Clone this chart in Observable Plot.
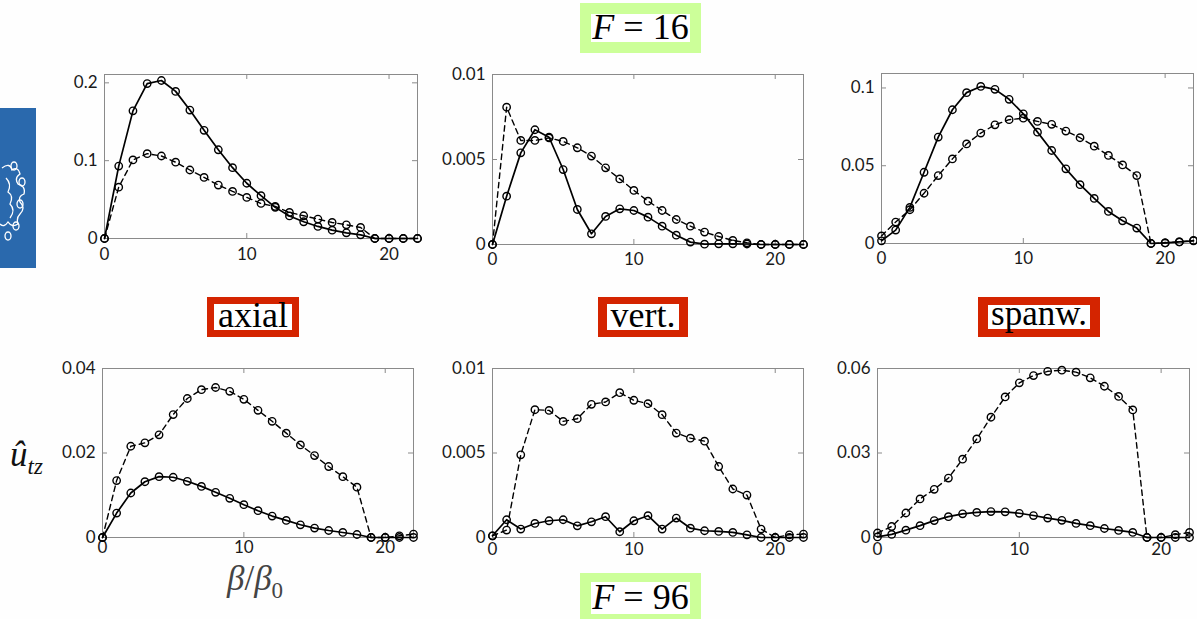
<!DOCTYPE html>
<html>
<head>
<meta charset="utf-8">
<script src="https://cdn.jsdelivr.net/npm/d3@7"></script>
<script src="https://cdn.jsdelivr.net/npm/@observablehq/plot@0.6"></script>
<style>
  html, body { margin:0; padding:0; background:#fefefe; }
  #root { position:relative; width:1197px; height:619px; overflow:hidden; background:#fefefe; }
  .abs { position:absolute; }
  .green { background:#ccff99; }
  .red { background:#d42400; }
  .inner { position:absolute; background:#fff; font-family:"Liberation Serif", "DejaVu Serif", serif; color:#000; white-space:nowrap; text-align:center; overflow:visible; }
  .math { font-family:"Liberation Serif", "DejaVu Serif", serif; white-space:nowrap; line-height:1; }
</style>
</head>
<body>
<div id="root"></div>
<script>
// ---- data ----
const beta = [0,1,2,3,4,5,6,7,8,9,10,11,12,13,14,15,16,17,18,19,20,21,22];
const xTicks = [0, 10, 20];

// F = 16
const axialF16Solid  = [0,0.093,0.164,0.199,0.203,0.189,0.165,0.139,0.114,0.091,0.071,0.055,0.040,0.029,0.0215,0.0155,0.0107,0.0073,0.0047,0,0,0,0];
const axialF16Dashed = [0,0.066,0.101,0.109,0.106,0.098,0.088,0.0785,0.0687,0.0605,0.0528,0.045,0.0412,0.0335,0.0292,0.0249,0.0206,0.0176,0.0142,0,0,0,0];
const vertF16Solid   = [0,0.00284,0.00539,0.00675,0.00631,0.00441,0.00206,0.00063,0.00165,0.0021,0.0020,0.00161,0.00108,0.00055,0.00014,0.00002,0.00004,0.00004,0.00003,0,0,0,0];
const vertF16Dashed  = [0,0.00808,0.00612,0.00612,0.00627,0.00606,0.00569,0.0052,0.00451,0.00386,0.00318,0.00255,0.0020,0.00147,0.00108,0.00073,0.00047,0.00024,0.0001,0,0,0,0];
const spanF16Solid   = [0.0017,0.0086,0.0232,0.0458,0.0684,0.086,0.097,0.101,0.0991,0.0927,0.0834,0.0716,0.0598,0.048,0.0378,0.029,0.0206,0.0146,0.0099,0,0.0004,0.001,0.0017];
const spanF16Dashed  = [0.0049,0.0138,0.0217,0.0323,0.0437,0.0544,0.064,0.071,0.0763,0.0796,0.0806,0.0785,0.0766,0.0723,0.068,0.0626,0.0566,0.0505,0.0437,0,0.0004,0.001,0.002];

// F = 96
const axialF96Solid  = [0,0.00578,0.01053,0.0132,0.0144,0.01426,0.0133,0.0121,0.0107,0.00927,0.00776,0.00634,0.00507,0.00404,0.00301,0.00222,0.00166,0.00119,0.00071,0,0,0,0];
const axialF96Dashed = [0,0.01347,0.0216,0.0224,0.0243,0.0291,0.0329,0.035,0.0355,0.0346,0.0327,0.0301,0.0275,0.0247,0.0219,0.0194,0.0168,0.0144,0.0119,0,0,0.0004,0.0008];
const vertF96Solid   = [0.0001,0.00105,0.0005,0.00083,0.00099,0.00105,0.00069,0.00093,0.00123,0.00034,0.00099,0.00129,0.0005,0.00115,0.00055,0.0004,0.00036,0.0003,0.00016,0,0,0,0];
const vertF96Dashed  = [0.0001,0.00044,0.00489,0.00756,0.00752,0.00687,0.00703,0.00788,0.00802,0.00857,0.00812,0.00792,0.00727,0.00618,0.00588,0.0057,0.0042,0.00287,0.00251,0.0005,0,0.00016,0.0002];
const spanF96Solid   = [0.0002,0.0011,0.0026,0.0042,0.006,0.0074,0.0084,0.0089,0.0092,0.0091,0.0086,0.0078,0.0069,0.0061,0.005,0.0042,0.0032,0.0025,0.0018,0,0,0,0];
const spanF96Dashed  = [0.0016,0.0039,0.0087,0.0137,0.0171,0.0211,0.0278,0.035,0.0427,0.0499,0.0549,0.0575,0.059,0.0594,0.0587,0.0567,0.0537,0.0501,0.0453,0,0,0.001,0.0018];

// y tick values
const axialF16Ticks = [0, 0.1, 0.2];
const vertF16Ticks  = [0, 0.005, 0.01];
const spanF16Ticks  = [0, 0.05, 0.1];
const axialF96Ticks = [0, 0.02, 0.04];
const vertF96Ticks  = [0, 0.005, 0.01];
const spanF96Ticks  = [0, 0.03, 0.06];

const titleTop = "F = 16";
const titleBottom = "F = 96";
const componentLabels = ["axial", "vert.", "spanw."];

// ---- layout ----
const root = document.getElementById("root");
const panels = [
  {solid: axialF16Solid, dashed: axialF16Dashed, ticks: axialF16Ticks, ymax: 0.2107, L:104, T:74,  W:313, H:164, xpad:9},
  {solid: vertF16Solid,  dashed: vertF16Dashed,  ticks: vertF16Ticks,  ymax: 0.01,   L:492, T:74,  W:311, H:170, xpad:8},
  {solid: spanF16Solid,  dashed: spanF16Dashed,  ticks: spanF16Ticks,  ymax: 0.1093, L:881, T:73,  W:312, H:170, xpad:8},
  {solid: axialF96Solid, dashed: axialF96Dashed, ticks: axialF96Ticks, ymax: 0.04,   L:102, T:368, W:311, H:169, xpad:3},
  {solid: vertF96Solid,  dashed: vertF96Dashed,  ticks: vertF96Ticks,  ymax: 0.01,   L:492, T:368, W:311, H:169, xpad:5},
  {solid: spanF96Solid,  dashed: spanF96Dashed,  ticks: spanF96Ticks,  ymax: 0.06,   L:877, T:368, W:312, H:169, xpad:5}
];

const mL = 50, mR = 6, mT = 8, mB = 30;
const fmt = d => d === 0 ? "0" : String(d);

for (const p of panels) {
  const data = beta.map((b, i) => ({b, s: p.solid[i], d: p.dashed[i]}));
  const frameStroke = "#8a8a8a";
  const svg = Plot.plot({
    width: p.W + mL + mR,
    height: p.H + mT + mB,
    marginLeft: mL, marginRight: mR, marginTop: mT, marginBottom: mB,
    x: {domain: [0, 22], label: null},
    y: {domain: [0, p.ymax], label: null},
    style: {fontFamily: "Lato, 'Open Sans', sans-serif", fontSize: "17px", color: "#1a1a1a", background: "transparent", overflow: "visible"},
    marks: [
      Plot.frame({stroke: frameStroke, strokeWidth: 1}),
      Plot.ruleX(xTicks, {stroke: frameStroke, insetTop: p.H - 5}),
      Plot.ruleX(xTicks, {stroke: frameStroke, insetBottom: p.H - 5}),
      Plot.ruleY(p.ticks, {stroke: frameStroke, insetRight: p.W - 5}),
      Plot.ruleY(p.ticks, {stroke: frameStroke, insetLeft: p.W - 5}),
      Plot.axisX(xTicks, {tickSize: 0, tickPadding: p.xpad, tickFormat: fmt, fill: "#1a1a1a"}),
      Plot.axisY(p.ticks, {tickSize: 0, tickPadding: 7, tickFormat: fmt, fill: "#1a1a1a"}),
      Plot.line(data, {x: "b", y: "d", stroke: "#000", strokeWidth: 1.4, strokeDasharray: "5.5,4"}),
      Plot.line(data, {x: "b", y: "s", stroke: "#000", strokeWidth: 1.7}),
      Plot.dot(data, {x: "b", y: "d", r: 3.7, stroke: "#000", strokeWidth: 1.4, fill: "none"}),
      Plot.dot(data, {x: "b", y: "s", r: 3.7, stroke: "#000", strokeWidth: 1.4, fill: "none"})
    ]
  });
  svg.style.position = "absolute";
  svg.style.left = (p.L - mL) + "px";
  svg.style.top = (p.T - mT) + "px";
  root.appendChild(svg);
}

// ---- decorations / labels ----
function box(cls, x, y, w, h, padX, padY, html, fs, shift) {
  const outer = document.createElement("div");
  outer.className = "abs " + cls;
  Object.assign(outer.style, {left: x + "px", top: y + "px", width: w + "px", height: h + "px"});
  const inner = document.createElement("div");
  inner.className = "inner";
  const ih = h - 2 * padY;
  Object.assign(inner.style, {left: padX + "px", right: padX + "px", top: padY + "px", height: ih + "px"});
  const t = document.createElement("div");
  Object.assign(t.style, {position: "absolute", left: "0", right: "0", top: shift + "px", fontSize: fs + "px", lineHeight: ih + "px"});
  t.innerHTML = html;
  inner.appendChild(t);
  outer.appendChild(inner);
  root.appendChild(outer);
}
function mathF(s) {
  const parts = s.split("=");
  return `<i>${parts[0].trim()}</i> = ${parts[1].trim()}`;
}
box("green", 580, 3, 121, 50, 11, 11, mathF(titleTop), 36, -1);
box("green", 580, 573, 121, 50, 11, 9, mathF(titleBottom), 36, -1);
box("red", 207, 297, 92, 40, 7, 7, componentLabels[0], 36, -2);
box("red", 598, 297, 90, 40, 9, 7, componentLabels[1], 36, -2);
box("red", 978, 297, 122, 40, 10, 8, componentLabels[2], 35, -3);

// y-axis label
const yl = document.createElement("div");
yl.className = "abs math";
Object.assign(yl.style, {left: "10px", top: "437px", fontSize: "35px", color: "#111"});
yl.innerHTML = '<i>û</i><sub style="font-size:23px"><i>tz</i></sub>';
root.appendChild(yl);

// x-axis label
const xl = document.createElement("div");
xl.className = "abs math";
Object.assign(xl.style, {left: "227px", top: "561px", fontSize: "35px", color: "#444"});
xl.innerHTML = '<i>β</i>/<i>β</i><sub style="font-size:23px">0</sub>';
root.appendChild(xl);

// logo
const logo = document.createElement("div");
logo.className = "abs";
Object.assign(logo.style, {left: "0px", top: "108px", width: "36px", height: "160px", background: "#2a69ad"});
logo.innerHTML = `<svg width="36" height="160" viewBox="0 0 36 160">
  <g fill="none" stroke="#fff" stroke-width="1.3">
    <path d="M2 60 q8 -6 10 2 q6 -4 8 4 q-6 4 -2 10 q8 2 6 10 q-6 2 -4 8 q6 6 0 12 q-4 4 -2 10 q-6 4 -10 -2 q-4 6 -8 2"/>
    <ellipse cx="14" cy="58" rx="3" ry="4"/>
    <ellipse cx="22" cy="74" rx="3" ry="4"/>
    <ellipse cx="20" cy="96" rx="3" ry="4"/>
    <ellipse cx="16" cy="118" rx="3" ry="4"/>
    <ellipse cx="8" cy="128" rx="3" ry="4"/>
    <path d="M6 70 q6 6 2 14 q6 4 2 12 q6 6 0 14"/>
  </g></svg>`;
root.appendChild(logo);
</script>
</body>
</html>
